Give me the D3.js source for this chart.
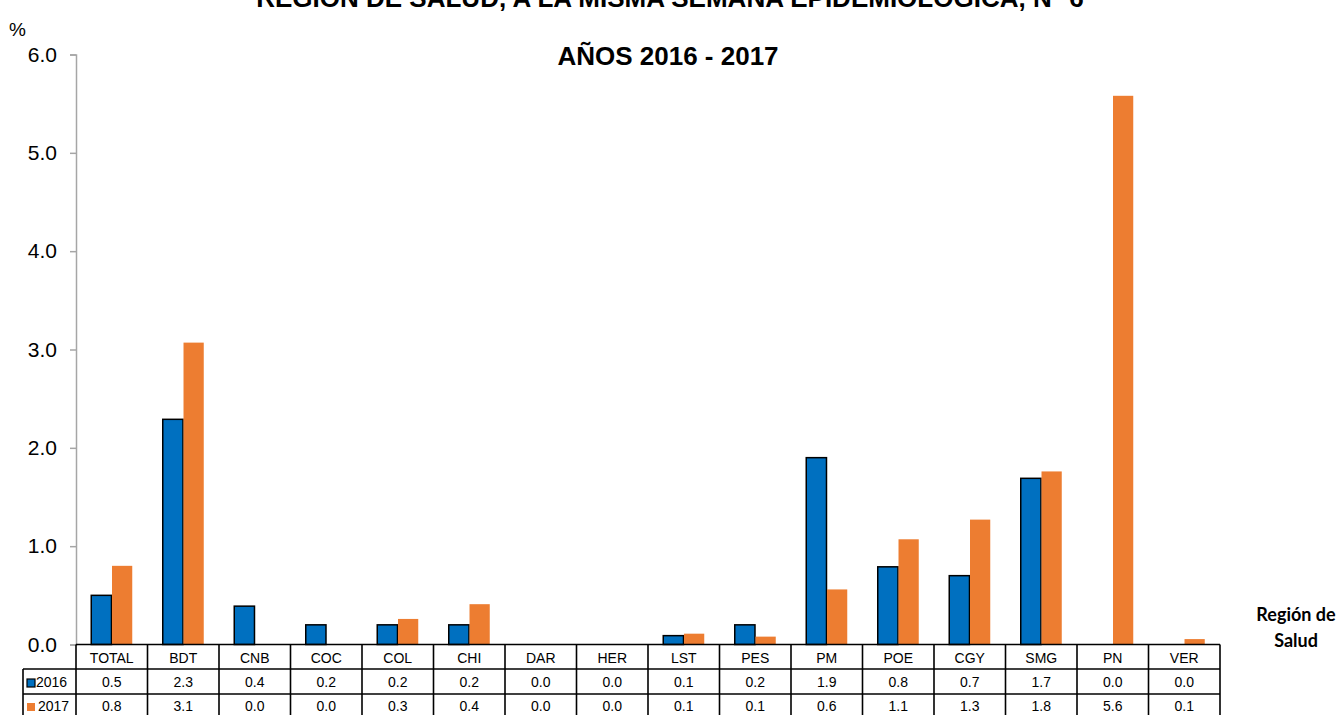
<!DOCTYPE html>
<html>
<head>
<meta charset="utf-8">
<script src="https://cdn.jsdelivr.net/npm/d3@7"></script>
<style>
  html, body { margin: 0; padding: 0; background: #fff; }
  svg { display: block; }
</style>
</head>
<body>
<svg id="chart" width="1344" height="715"></svg>
<script>
const categories = ["TOTAL","BDT","CNB","COC","COL","CHI","DAR","HER","LST","PES","PM","POE","CGY","SMG","PN","VER"];
const years = ["2016","2017"];
const values2016 = [0.50,2.29,0.39,0.20,0.20,0.20,0.00,0.00,0.09,0.20,1.90,0.79,0.70,1.69,0.00,0.00];
const values2017 = [0.80,3.07,0.00,0.00,0.26,0.41,0.00,0.00,0.11,0.08,0.56,1.07,1.27,1.76,5.58,0.055];
const yTicks = [0,1,2,3,4,5,6];
const titleLines = ["REGIÓN DE SALUD, A LA MISMA SEMANA EPIDEMIOLÓGICA, N° 6", "AÑOS 2016 - 2017"];
const yUnit = "%";
const xTitle = ["Región de", "Salud"];
const colors = {"2016": "#0070C0", "2017": "#ED7D31"};

(function () {
const seriesValues = {"2016": values2016, "2017": values2017};
const svg = d3.select("#chart");
const font = "'Liberation Sans', Arial, sans-serif";

const mLeft = 76, mRight = 1220, mTop = 54.5, mBottom = 644.5;
const x0 = d3.scaleBand().domain(categories).range([mLeft, mRight]).paddingInner(0).paddingOuter(0);
const bw = x0.bandwidth();
const x1 = d3.scaleBand().domain(years).range([bw/2 - 20.5, bw/2 + 20.5]).paddingInner(0.025);
const y = d3.scaleLinear().domain([0, 6]).range([mBottom, mTop]);

// Titles (first line is cut by the top edge, as in the reference)
svg.append("text").attr("x", 670).attr("y", 7).attr("text-anchor", "middle")
  .attr("font-family", font).attr("font-weight", "bold").attr("font-size", 26).text(titleLines[0]);
svg.append("text").attr("x", 668).attr("y", 65).attr("text-anchor", "middle")
  .attr("font-family", font).attr("font-weight", "bold").attr("font-size", 26).text(titleLines[1]);

svg.append("text").attr("x", 9).attr("y", 36).attr("font-family", font).attr("font-size", 19).text(yUnit);

// Y axis
const yAxis = d3.axisLeft(y).tickValues(yTicks).tickFormat(d3.format(".1f")).tickSize(6).tickPadding(13);
const gy = svg.append("g").attr("transform", `translate(${mLeft},0)`).call(yAxis);
gy.select(".domain").attr("stroke", "#A6A6A6").attr("stroke-width", 1.5);
gy.selectAll(".tick line").attr("stroke", "#A6A6A6").attr("stroke-width", 1.5);
gy.selectAll(".tick text").attr("font-family", font).attr("font-size", 21).attr("fill", "#000");

// Bars
const groups = svg.append("g").selectAll("g").data(categories).join("g")
  .attr("transform", d => `translate(${x0(d)},0)`);
groups.selectAll("rect").data((c, i) => years.map(yr => ({yr, v: seriesValues[yr][i]})))
  .join("rect")
  .filter(d => d.v > 0)
  .attr("x", d => x1(d.yr))
  .attr("width", x1.bandwidth())
  .attr("y", d => y(d.v))
  .attr("height", d => y(0) - y(d.v))
  .attr("fill", d => colors[d.yr])
  .attr("stroke", d => d.yr === "2016" ? "#000" : "none")
  .attr("stroke-width", 1.5);

// Data table
const rowTop = [644.5, 669, 694, 719];
const tbl = svg.append("g").attr("stroke", "#000").attr("stroke-width", 1.6).attr("fill", "none");
tbl.append("line").attr("x1", mLeft).attr("x2", mRight).attr("y1", rowTop[0]).attr("y2", rowTop[0]);
tbl.append("line").attr("x1", 23).attr("x2", mRight).attr("y1", rowTop[1]).attr("y2", rowTop[1]);
tbl.append("line").attr("x1", 23).attr("x2", mRight).attr("y1", rowTop[2]).attr("y2", rowTop[2]);
const vx = categories.map(c => x0(c)).concat([mRight]);
tbl.selectAll("line.v").data(vx).join("line").attr("class", "v")
  .attr("x1", d => d).attr("x2", d => d).attr("y1", rowTop[0]).attr("y2", 715);
tbl.append("line").attr("x1", 23).attr("x2", 23).attr("y1", rowTop[1]).attr("y2", 715);

svg.append("g").selectAll("text").data(categories).join("text")
  .attr("x", d => x0(d) + bw/2).attr("y", 663).attr("text-anchor", "middle")
  .attr("font-family", font).attr("font-size", 14).text(d => d);

years.forEach((yr, r) => {
  const base = r === 0 ? 687 : 711;
  svg.append("g").selectAll("text").data(seriesValues[yr]).join("text")
    .attr("x", (d, i) => x0(categories[i]) + bw/2).attr("y", base).attr("text-anchor", "middle")
    .attr("font-family", font).attr("font-size", 14).text(d => d.toFixed(1));
  svg.append("rect").attr("x", 27).attr("y", base - 8).attr("width", 8).attr("height", 8)
    .attr("fill", colors[yr]).attr("stroke", yr === "2016" ? "#000" : "none").attr("stroke-width", 1.2);
  svg.append("text").attr("x", yr === "2016" ? 36 : 38).attr("y", base)
    .attr("font-family", font).attr("font-size", 14).text(yr);
});

xTitle.forEach((t, i) => {
  svg.append("text").attr("x", 1296).attr("y", 621 + i * 26).attr("text-anchor", "middle")
    .attr("font-family", "Lato, 'Open Sans', sans-serif").attr("font-weight", "bold").attr("font-size", 18).text(t);
});
})();
</script>
</body>
</html>
